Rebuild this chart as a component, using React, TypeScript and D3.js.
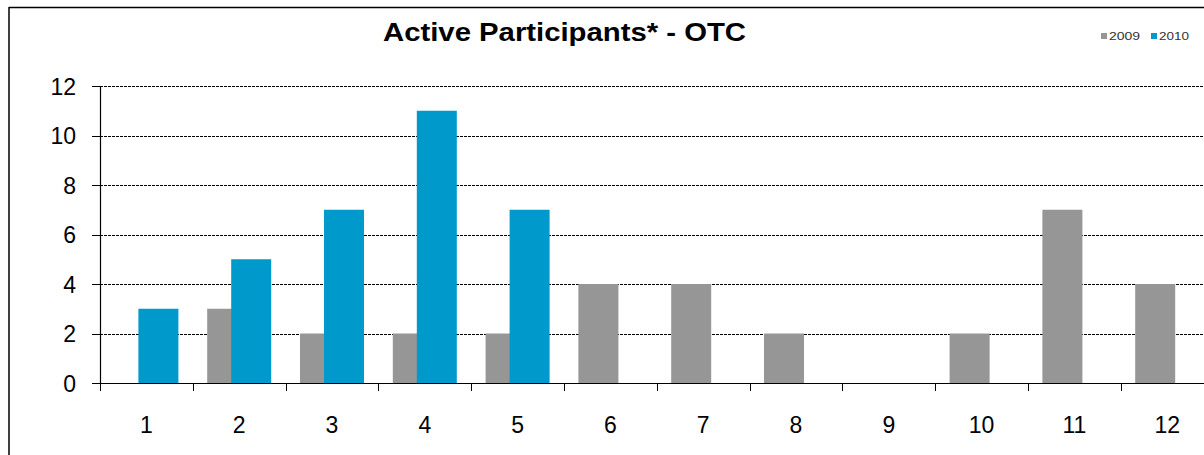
import React from "react";
import * as d3 from "d3";

const categories = ["1", "2", "3", "4", "5", "6", "7", "8", "9", "10", "11", "12"];
const values2009 = [0, 3, 2, 2, 2, 4, 4, 2, 0, 2, 7, 4];
const values2010: (number | null)[] = [3, 5, 7, 11, 7, null, null, null, null, null, null, null];
const yTicks = [0, 2, 4, 6, 8, 10, 12];
const seriesNames = ["2009", "2010"];

const W = 1204;
const H = 455;
const GRAY = "#969696";
const BLUE = "#0099cc";
const FONT = "Arial, 'Liberation Sans', Helvetica, sans-serif";

export default function App() {
  const left = 100;
  const bandW = 92.8;
  const right = left + bandW * categories.length;
  const x = d3.scaleBand<string>().domain(categories).range([left, right]).padding(0);
  const y = d3.scaleLinear().domain([0, 12]).range([383, 86]);
  const barW = 40;
  const offset = 24;

  return (
    <svg
      width={W}
      height={H}
      style={{ position: "absolute", left: 0, top: 0, display: "block", background: "#fff" }}
      fontFamily={FONT}
    >
      <rect x={0} y={0} width={W} height={H} fill="#fff" />
      {/* outer border */}
      <line x1={9} y1={7.5} x2={W} y2={7.5} stroke="#000" strokeWidth={1.5} />
      <line x1={9} y1={7} x2={9} y2={H} stroke="#000" strokeWidth={1.5} />

      {/* title */}
      <text
        x={383}
        y={41}
        fontSize={26}
        fontWeight="bold"
        fill="#000"
        textLength={363}
        lengthAdjust="spacingAndGlyphs"
      >
        Active Participants* - OTC
      </text>

      {/* legend */}
      <rect x={1101} y={33} width={6} height={6} fill={GRAY} />
      <text x={1109} y={39.5} fontSize={10} fill="#333" textLength={31} lengthAdjust="spacingAndGlyphs">
        {seriesNames[0]}
      </text>
      <rect x={1151} y={33} width={6} height={6} fill={BLUE} />
      <text x={1159} y={39.5} fontSize={10} fill="#333" textLength={30} lengthAdjust="spacingAndGlyphs">
        {seriesNames[1]}
      </text>

      {/* gridlines */}
      {yTicks.filter((t) => t > 0).map((t) => (
        <line
          key={"g" + t}
          x1={left}
          x2={W}
          y1={Math.round(y(t)) + 0.5}
          y2={Math.round(y(t)) + 0.5}
          stroke="#000"
          strokeWidth={1}
          strokeDasharray="3,1"
        />
      ))}

      {/* bars 2009 */}
      {categories.map((c, i) => {
        const v = values2009[i];
        if (!v) return null;
        const cx = (x(c) as number) + bandW / 2;
        return (
          <rect
            key={"a" + c}
            x={cx - 32}
            y={y(v)}
            width={barW}
            height={y(0) - y(v)}
            fill={GRAY}
          />
        );
      })}
      {/* bars 2010 */}
      {categories.map((c, i) => {
        const v = values2010[i];
        if (v == null || !v) return null;
        const cx = (x(c) as number) + bandW / 2;
        return (
          <rect
            key={"b" + c}
            x={cx - 32 + offset}
            y={y(v)}
            width={barW}
            height={y(0) - y(v)}
            fill={BLUE}
          />
        );
      })}

      {/* y axis */}
      <line x1={left + 0.5} x2={left + 0.5} y1={y(12)} y2={y(0)} stroke="#000" strokeWidth={1.2} />
      {yTicks.map((t) => (
        <g key={"y" + t}>
          <line x1={92} x2={left} y1={Math.round(y(t)) + 0.5} y2={Math.round(y(t)) + 0.5} stroke="#000" strokeWidth={1} />
          <text x={76} y={y(t) + 8.5} textAnchor="end" fontSize={23} fill="#000">
            {t}
          </text>
        </g>
      ))}

      {/* x axis */}
      <line x1={92} x2={W} y1={Math.round(y(0)) + 0.5} y2={Math.round(y(0)) + 0.5} stroke="#000" strokeWidth={1.2} />
      {categories.map((c) => {
        const bx = Math.round(x(c) as number) + 0.5;
        return (
          <g key={"x" + c}>
            <line x1={bx} x2={bx} y1={y(0)} y2={y(0) + 8} stroke="#000" strokeWidth={1} />
            <text x={(x(c) as number) + bandW / 2} y={433} textAnchor="middle" fontSize={23} fill="#000">
              {c}
            </text>
          </g>
        );
      })}
    </svg>
  );
}
